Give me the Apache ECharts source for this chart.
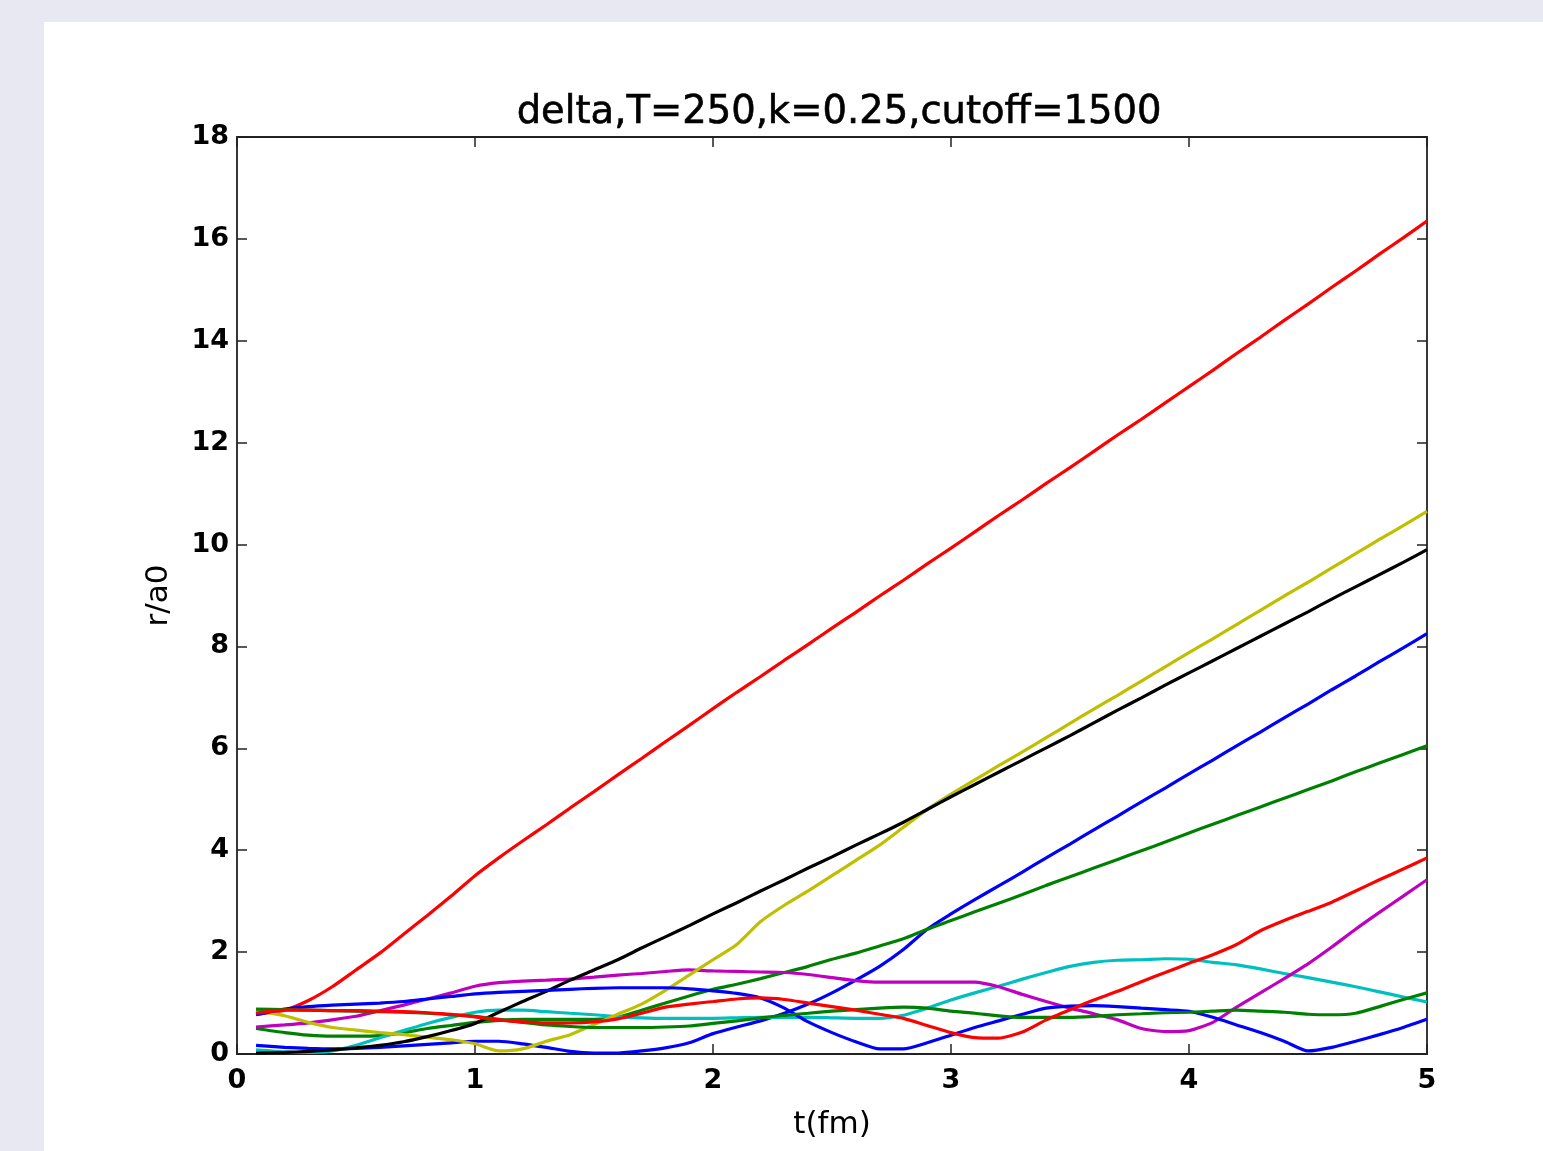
<!DOCTYPE html>
<html>
<head>
<meta charset="utf-8">
<script src="https://cdn.jsdelivr.net/npm/echarts@6/dist/echarts.min.js"></script>
<style>
html,body{margin:0;padding:0;width:1543px;height:1151px;background:#e8e8f2;overflow:hidden;}
#panel{position:absolute;left:44px;top:22px;right:0;bottom:0;background:#ffffff;}
#chart{position:absolute;left:0;top:0;width:1543px;height:1151px;}
</style>
</head>
<body>
<div id="panel"></div>
<div id="chart"></div>
<script>
// time values t(fm)
const tValues = [0.08,0.2,0.3,0.4,0.5,0.6,0.7,0.8,0.9,1.0,1.1,1.2,1.3,1.4,1.5,1.6,1.7,1.8,1.9,2.0,2.1,2.2,2.3,2.4,2.5,2.6,2.7,2.8,2.9,3.0,3.1,3.2,3.3,3.4,3.5,3.6,3.7,3.8,3.9,4.0,4.1,4.2,4.3,4.4,4.5,4.6,4.7,4.8,4.9,5.0];

const blueA = [0.17,0.13,0.11,0.10,0.11,0.13,0.16,0.19,0.22,0.25,0.25,0.2,0.13,0.05,0.02,0.02,0.06,0.12,0.22,0.4,0.53,0.65,0.8,0.98,1.2,1.45,1.72,2.05,2.45,2.75,3.03,3.3,3.57,3.85,4.12,4.4,4.67,4.95,5.22,5.5,5.77,6.05,6.32,6.6,6.87,7.15,7.42,7.7,7.97,8.25];
const greenA = [0.5,0.42,0.37,0.35,0.35,0.36,0.42,0.5,0.56,0.62,0.66,0.68,0.68,0.68,0.68,0.72,0.86,1.0,1.14,1.27,1.37,1.48,1.6,1.72,1.86,1.98,2.12,2.26,2.45,2.62,2.79,2.96,3.13,3.31,3.48,3.65,3.82,3.99,4.16,4.34,4.51,4.68,4.85,5.02,5.19,5.36,5.54,5.71,5.88,6.05];
const redA = [0.78,0.86,1.05,1.32,1.65,1.98,2.35,2.72,3.1,3.5,3.85,4.18,4.5,4.83,5.15,5.48,5.8,6.13,6.45,6.78,7.1,7.41,7.73,8.04,8.36,8.67,8.99,9.3,9.62,9.93,10.25,10.57,10.88,11.2,11.51,11.83,12.15,12.46,12.78,13.1,13.42,13.75,14.07,14.4,14.72,15.05,15.37,15.7,16.02,16.35];
const cyan = [0.08,0.04,0.03,0.06,0.17,0.32,0.46,0.6,0.72,0.82,0.86,0.86,0.83,0.8,0.77,0.73,0.71,0.7,0.7,0.7,0.71,0.72,0.72,0.72,0.71,0.7,0.7,0.76,0.9,1.06,1.2,1.33,1.47,1.6,1.72,1.8,1.84,1.85,1.87,1.86,1.8,1.75,1.67,1.58,1.5,1.41,1.32,1.22,1.12,1.02];
const magenta = [0.53,0.57,0.61,0.67,0.74,0.85,0.96,1.08,1.2,1.33,1.4,1.43,1.45,1.47,1.51,1.55,1.58,1.62,1.65,1.63,1.62,1.61,1.6,1.56,1.5,1.44,1.41,1.41,1.41,1.41,1.41,1.32,1.17,1.03,0.9,0.79,0.67,0.5,0.44,0.46,0.62,0.92,1.2,1.48,1.77,2.1,2.45,2.78,3.1,3.42];
const yellow = [0.85,0.75,0.62,0.52,0.47,0.42,0.38,0.33,0.28,0.2,0.06,0.1,0.25,0.38,0.58,0.78,0.98,1.25,1.55,1.85,2.15,2.6,2.92,3.2,3.5,3.8,4.1,4.45,4.8,5.1,5.38,5.66,5.93,6.21,6.49,6.77,7.04,7.32,7.6,7.88,8.15,8.43,8.71,8.99,9.26,9.54,9.82,10.1,10.37,10.65];
const black = [0.02,0.03,0.05,0.08,0.12,0.17,0.24,0.34,0.46,0.6,0.82,1.03,1.23,1.45,1.65,1.85,2.08,2.3,2.52,2.75,2.97,3.2,3.42,3.65,3.87,4.1,4.32,4.55,4.8,5.05,5.29,5.53,5.77,6.01,6.25,6.5,6.75,6.99,7.24,7.48,7.72,7.96,8.2,8.44,8.68,8.93,9.17,9.41,9.65,9.9];
const blueB = [0.77,0.88,0.93,0.96,0.98,1.0,1.03,1.08,1.13,1.18,1.21,1.23,1.25,1.27,1.29,1.3,1.3,1.3,1.28,1.24,1.19,1.1,0.9,0.63,0.42,0.24,0.1,0.1,0.22,0.37,0.52,0.65,0.78,0.9,0.94,0.95,0.93,0.9,0.87,0.84,0.72,0.57,0.42,0.25,0.06,0.13,0.25,0.38,0.52,0.68];
const greenB = [0.88,0.87,0.86,0.85,0.84,0.83,0.82,0.8,0.77,0.74,0.68,0.62,0.57,0.54,0.52,0.52,0.52,0.53,0.55,0.6,0.65,0.71,0.76,0.8,0.84,0.87,0.9,0.92,0.9,0.84,0.8,0.75,0.72,0.72,0.72,0.74,0.77,0.79,0.81,0.82,0.84,0.86,0.84,0.82,0.78,0.77,0.8,0.93,1.07,1.2];
const redB = [0.8,0.86,0.86,0.85,0.85,0.84,0.83,0.81,0.78,0.73,0.67,0.63,0.61,0.61,0.63,0.69,0.8,0.92,0.98,1.03,1.08,1.1,1.07,1.0,0.93,0.86,0.78,0.7,0.56,0.42,0.32,0.31,0.43,0.67,0.87,1.06,1.23,1.42,1.6,1.78,1.95,2.15,2.42,2.62,2.8,2.98,3.2,3.42,3.63,3.85];

const seriesList = [
  {name:'b1', values: blueA, color:'#0000ff'},
  {name:'g1', values: greenA, color:'#008000'},
  {name:'r1', values: redA, color:'#ff0000'},
  {name:'c1', values: cyan, color:'#00bfbf'},
  {name:'m1', values: magenta, color:'#bf00bf'},
  {name:'y1', values: yellow, color:'#bfbf00'},
  {name:'k1', values: black, color:'#000000'},
  {name:'b2', values: blueB, color:'#0000ff'},
  {name:'g2', values: greenB, color:'#008000'},
  {name:'r2', values: redB, color:'#ff0000'}
];

const xTicks = [0,1,2,3,4,5];
const yTicks = [0,2,4,6,8,10,12,14,16,18];

const chart = echarts.init(document.getElementById('chart'), null, {renderer:'canvas'});
const font = 'DejaVu Sans';
const axisLineStyle = {color:'#222', width:1.8};
const tickStyle = {show:true, inside:true, length:10, lineStyle:{color:'#222', width:1.5}};

const option = {
  backgroundColor: 'transparent',
  animation: false,
  title: {
    text: 'delta,T=250,k=0.25,cutoff=1500',
    left: 834, top: 88, textAlign: 'center',
    textStyle: {fontFamily: font, fontSize: 38.5, fontWeight: 'normal', color: '#000', textBorderColor: '#000', textBorderWidth: 0.6}
  },
  grid: {left: 237, right: 116, top: 137, bottom: 97, containLabel: false},
  xAxis: [
    {
      type: 'value', position: 'bottom', min: xTicks[0], max: xTicks[xTicks.length-1], interval: 1,
      name: 't(fm)', nameLocation: 'middle', nameGap: 55,
      nameTextStyle: {fontFamily: font, fontSize: 31, color: '#000'},
      axisLine: {show: true, onZero: false, lineStyle: axisLineStyle},
      axisTick: tickStyle,
      axisLabel: {fontFamily: font, fontSize: 27, fontWeight: 'bold', color: '#000', margin: 13},
      splitLine: {show: false}
    },
    {
      type: 'value', position: 'top', min: 0, max: 5, interval: 1,
      axisLine: {show: true, onZero: false, lineStyle: axisLineStyle},
      axisTick: tickStyle, axisLabel: {show: false}, splitLine: {show: false}
    }
  ],
  yAxis: [
    {
      type: 'value', position: 'left', min: yTicks[0], max: yTicks[yTicks.length-1], interval: 2,
      name: 'r/a0', nameLocation: 'middle', nameGap: 63, nameRotate: 90,
      nameTextStyle: {fontFamily: font, fontSize: 31, color: '#000'},
      axisLine: {show: true, onZero: false, lineStyle: axisLineStyle},
      axisTick: tickStyle,
      axisLabel: {fontFamily: font, fontSize: 27, fontWeight: 'bold', color: '#000', margin: 8},
      splitLine: {show: false}
    },
    {
      type: 'value', position: 'right', min: 0, max: 18, interval: 2,
      axisLine: {show: true, onZero: false, lineStyle: axisLineStyle},
      axisTick: tickStyle, axisLabel: {show: false}, splitLine: {show: false}
    }
  ],
  series: seriesList.map(s => ({
    name: s.name, type: 'line', xAxisIndex: 0, yAxisIndex: 0,
    data: tValues.map((t, i) => [t, s.values[i]]),
    showSymbol: false, symbol: 'none', smooth: 0.2,
    lineStyle: {color: s.color, width: 3.2},
    itemStyle: {color: s.color},
    clip: true
  }))
};
chart.setOption(option);
</script>
</body>
</html>
